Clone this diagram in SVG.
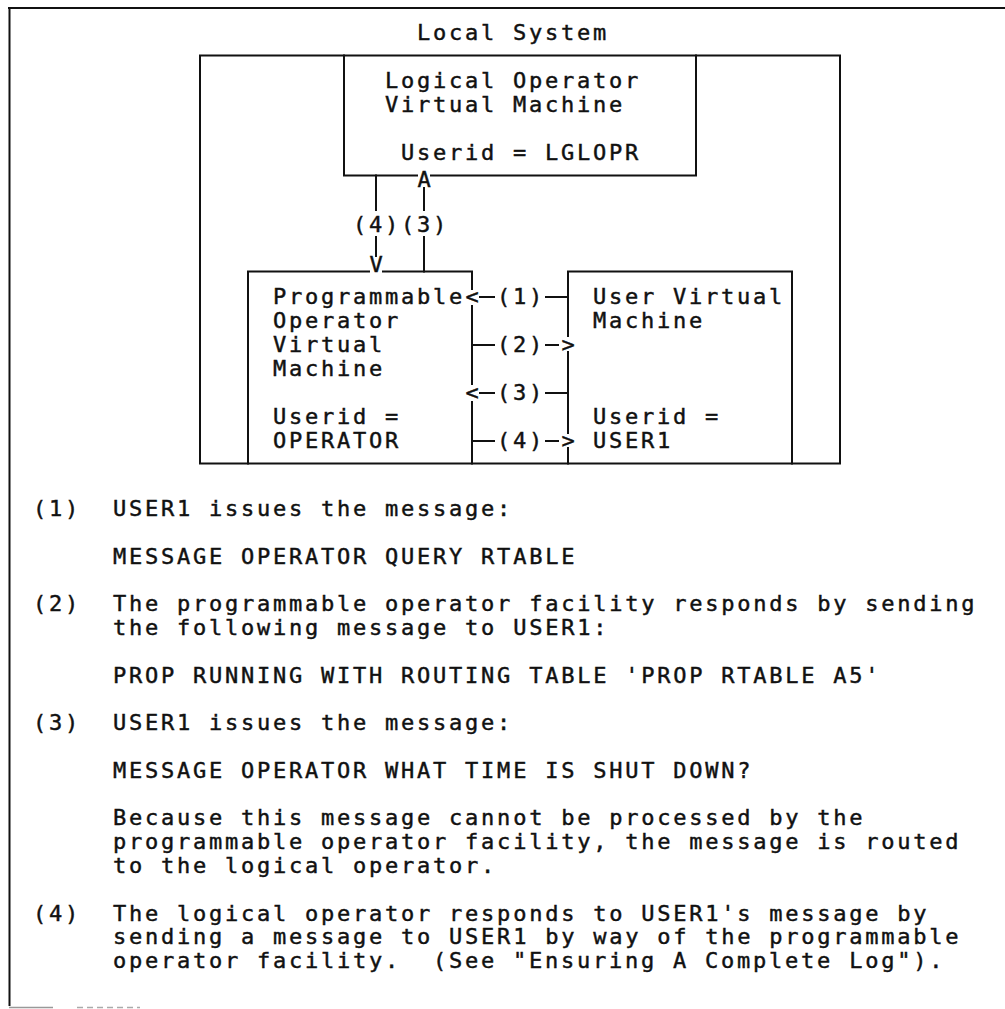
<svg xmlns="http://www.w3.org/2000/svg" width="1005" height="1009" viewBox="0 0 1005 1009">
<style>
  .ln { stroke: #111; stroke-width: 2; fill: none; stroke-linecap: square; }
  .t { font-family: "DejaVu Sans Mono", "Liberation Mono", monospace; font-size: 22px; letter-spacing: 2.76px; fill: #111; stroke: #111; stroke-width: 0.45px; }
  .g { font-family: "DejaVu Sans Mono", "Liberation Mono", monospace; font-size: 22px; fill: #111; stroke: #111; stroke-width: 0.45px; text-anchor: middle; }
</style>
<rect x="0" y="0" width="1005" height="1009" fill="#fff"/>
<g id="frame">
  <path class="ln" d="M9 8 H1005 M9.5 8 V1005"/>
  <path d="M9 1007.5 H53" stroke="#999" stroke-width="1.5"/>
  <path d="M77 1007.5 H140" stroke="#aaa" stroke-width="1.5" stroke-dasharray="6 4"/>
</g>
<g id="local-system">
  <text class="t" x="417" y="40">Local System</text>
  <rect class="ln" x="200" y="55.5" width="640" height="408"/>
</g>
<g id="logical-operator-vm">
  <path class="ln" d="M344 55.5 V175.5 H417 M431 175.5 H696 V55.5"/>
  <text class="t" x="385" y="88">Logical Operator</text>
  <text class="t" x="385" y="112">Virtual Machine</text>
  <text class="t" x="401" y="160">Userid = LGLOPR</text>
</g>
<g id="programmable-operator-vm">
  <path class="ln" d="M248 463.5 V271.5 H369 M383 271.5 H472 V289 M472 306 V384 M472 402 V463.5"/>
  <text class="t" x="273" y="304">Programmable</text>
  <text class="t" x="273" y="328">Operator</text>
  <text class="t" x="273" y="352">Virtual</text>
  <text class="t" x="273" y="376">Machine</text>
  <text class="t" x="273" y="424">Userid =</text>
  <text class="t" x="273" y="448">OPERATOR</text>
</g>
<g id="user-vm">
  <path class="ln" d="M568 463.5 V448 M568 433 V352 M568 336 V271.5 H792 V463.5"/>
  <text class="t" x="593" y="304">User Virtual</text>
  <text class="t" x="593" y="328">Machine</text>
  <text class="t" x="593" y="424">Userid =</text>
  <text class="t" x="593" y="448">USER1</text>
</g>
<g id="connectors">
  <path class="ln" d="M376 175.5 V210 M376 237 V256"/>
  <path class="ln" d="M424 188 V210 M424 237 V271.5"/>
  <text class="g" x="424" y="187">A</text>
  <text class="g" x="376" y="272">V</text>
  <text class="t" x="353" y="232">(4)(3)</text>
  <path class="ln" d="M480 297 H494 M546 297 H568"/>
  <text class="g" x="472" y="304">&lt;</text>
  <text class="t" x="497" y="304">(1)</text>
  <path class="ln" d="M472 345 H494 M546 345 H558"/>
  <text class="t" x="497" y="352">(2)</text>
  <text class="g" x="568" y="352">&gt;</text>
  <path class="ln" d="M480 393 H494 M546 393 H568"/>
  <text class="g" x="472" y="400">&lt;</text>
  <text class="t" x="497" y="400">(3)</text>
  <path class="ln" d="M472 441 H494 M546 441 H558"/>
  <text class="t" x="497" y="448">(4)</text>
  <text class="g" x="568" y="448">&gt;</text>
</g>
<g id="notes">
  <text class="t" x="33" y="516">(1)</text>
  <text class="t" x="113" y="516">USER1 issues the message:</text>
  <text class="t" x="113" y="563.6">MESSAGE OPERATOR QUERY RTABLE</text>
  <text class="t" x="33" y="611.2">(2)</text>
  <text class="t" x="113" y="611.2">The programmable operator facility responds by sending</text>
  <text class="t" x="113" y="635">the following message to USER1:</text>
  <text class="t" x="113" y="682.6">PROP RUNNING WITH ROUTING TABLE 'PROP RTABLE A5'</text>
  <text class="t" x="33" y="730.2">(3)</text>
  <text class="t" x="113" y="730.2">USER1 issues the message:</text>
  <text class="t" x="113" y="777.8">MESSAGE OPERATOR WHAT TIME IS SHUT DOWN?</text>
  <text class="t" x="113" y="825.4">Because this message cannot be processed by the</text>
  <text class="t" x="113" y="849.2">programmable operator facility, the message is routed</text>
  <text class="t" x="113" y="873">to the logical operator.</text>
  <text class="t" x="33" y="920.6">(4)</text>
  <text class="t" x="113" y="920.6">The logical operator responds to USER1's message by</text>
  <text class="t" x="113" y="944.4">sending a message to USER1 by way of the programmable</text>
  <text class="t" x="113" y="968.2">operator facility.</text>
  <text class="t" x="433" y="968.2">(See "Ensuring A Complete Log").</text>
</g>
</svg>
